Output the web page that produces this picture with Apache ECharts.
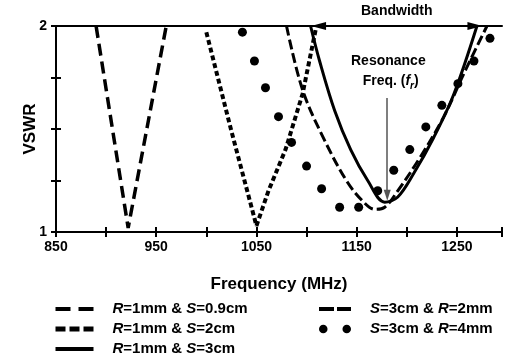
<!DOCTYPE html>
<html>
<head>
<meta charset="utf-8">
<script src="https://cdn.jsdelivr.net/npm/echarts@6/dist/echarts.min.js"></script>
<style>
  html, body { margin: 0; padding: 0; background: #fff; }
  #chart { width: 505px; height: 360px; }
</style>
</head>
<body>
<div id="chart"></div>
<script>
// 数据
const xTicks = [850, 950, 1050, 1150, 1250]
const yTicks = [1, 2]

// R=1mm & S=0.9cm
const freqA = [890, 922, 960]
const vswrA = [2.0, 1.02, 2.0]
// R=1mm & S=2cm
const freqB = [1000, 1025, 1050, 1062, 1079, 1096, 1109]
const vswrB = [1.97, 1.49, 1.03, 1.2, 1.4, 1.67, 1.98]
// R=1mm & S=3cm
const freqC = [1104, 1113, 1128, 1144, 1161, 1178, 1191, 1207, 1227, 1247, 1270]
const vswrC = [2.0, 1.83, 1.59, 1.4, 1.25, 1.145, 1.17, 1.285, 1.46, 1.67, 2.0]
// S=3cm & R=2mm
const freqD = [1080, 1096, 1118, 1141, 1158, 1168, 1178, 1191, 1213, 1237, 1257, 1280]
const vswrD = [2.0, 1.69, 1.445, 1.24, 1.14, 1.11, 1.12, 1.2, 1.36, 1.56, 1.77, 2.0]
// S=3cm & R=4mm
const freqE = [1036, 1048, 1059, 1072, 1085, 1100, 1115, 1133, 1152, 1171, 1187, 1203, 1219, 1235, 1251, 1267, 1283]
const vswrE = [1.97, 1.83, 1.7, 1.56, 1.435, 1.32, 1.21, 1.12, 1.12, 1.2, 1.3, 1.4, 1.51, 1.615, 1.72, 1.83, 1.94]

const names = ['R=1mm & S=0.9cm', 'R=1mm & S=2cm', 'R=1mm & S=3cm', 'S=3cm & R=2mm', 'S=3cm & R=4mm']
const richNames = {
  'R=1mm & S=0.9cm': '{i|R}=1mm & {i|S}=0.9cm',
  'R=1mm & S=2cm': '{i|R}=1mm & {i|S}=2cm',
  'R=1mm & S=3cm': '{i|R}=1mm & {i|S}=3cm',
  'S=3cm & R=2mm': '{i|S}=3cm & {i|R}=2mm',
  'S=3cm & R=4mm': '{i|S}=3cm & {i|R}=4mm'
}

const zip = (xs, ys) => xs.map((x, i) => [x, ys[i]])

const FONT = 'Liberation Sans, Arial, sans-serif'
const chart = echarts.init(document.getElementById('chart'))

const legendText = {
  fontFamily: FONT,
  fontSize: 15,
  fontWeight: 'bold',
  color: '#000',
  lineHeight: 18,
  padding: [0, 0, 0, 14],
  rich: {
    i: { fontFamily: FONT, fontSize: 15, fontWeight: 'bold', fontStyle: 'italic', color: '#000', lineHeight: 18 }
  }
}
// 隐藏折线图例中间的圆点
const hiddenDot = { color: 'rgba(0,0,0,0)', borderWidth: 0 }

const xRange = { min: 850, max: 1295, interval: 50 }
const yRange = { min: 1, max: 2, interval: 0.25 }

chart.setOption({
  animation: false,
  grid: { left: 56, right: 0, top: 26, bottom: 128 },
  xAxis: [
    {
      type: 'value', position: 'bottom', ...xRange,
      name: 'Frequency (MHz)', nameLocation: 'middle', nameGap: 44, nameMoveOverlap: false,
      nameTextStyle: { fontFamily: FONT, fontSize: 17, fontWeight: 'bold', color: '#000' },
      axisLine: { lineStyle: { color: '#000', width: 2 } },
      axisTick: { length: 5, lineStyle: { color: '#000', width: 2 } },
      axisLabel: {
        fontFamily: FONT, fontSize: 14, fontWeight: 'bold', color: '#000', margin: 8,
        formatter: (v) => (xTicks.includes(v) ? String(v) : '')
      },
      splitLine: { show: false }
    },
    {
      type: 'value', position: 'bottom', ...xRange,
      axisLine: { show: false },
      axisTick: { inside: true, length: 5, lineStyle: { color: '#000', width: 2 } },
      axisLabel: { show: false },
      splitLine: { show: false }
    },
    {
      type: 'value', position: 'top', ...xRange,
      axisLine: { lineStyle: { color: '#000', width: 2 } },
      axisTick: { show: false },
      axisLabel: { show: false },
      splitLine: { show: false }
    }
  ],
  yAxis: [
    {
      type: 'value', position: 'left', ...yRange,
      name: 'VSWR', nameLocation: 'middle', nameGap: 17, nameRotate: 90, nameMoveOverlap: false,
      nameTextStyle: { fontFamily: FONT, fontSize: 17, fontWeight: 'bold', color: '#000' },
      axisLine: { show: true, lineStyle: { color: '#000', width: 2 } },
      axisTick: { show: true, length: 5, lineStyle: { color: '#000', width: 2 } },
      axisLabel: {
        fontFamily: FONT, fontSize: 14, fontWeight: 'bold', color: '#000', margin: 9,
        formatter: (v) => (yTicks.includes(v) ? String(v) : '')
      },
      splitLine: { show: false }
    },
    {
      type: 'value', position: 'left', ...yRange,
      axisLine: { show: false },
      axisTick: { show: true, inside: true, length: 5, lineStyle: { color: '#000', width: 2 } },
      axisLabel: { show: false },
      splitLine: { show: false }
    }
  ],
  legend: [
    {
      left: 53, top: 300, orient: 'vertical', padding: 0,
      itemWidth: 38, itemHeight: 14, itemGap: 2,
      textStyle: legendText,
      formatter: (n) => richNames[n],
      data: [
        { name: names[0], itemStyle: hiddenDot, lineStyle: { type: [15, 8], width: 4 } },
        { name: names[1], itemStyle: hiddenDot, lineStyle: { type: [10, 4], width: 5 } },
        { name: names[2], itemStyle: hiddenDot, lineStyle: { width: 4, type: 'solid' } }
      ]
    },
    {
      left: 317, top: 300, orient: 'vertical', padding: 0,
      itemWidth: 32, itemHeight: 14, itemGap: 2,
      textStyle: legendText,
      formatter: (n) => richNames[n],
      data: [
        { name: names[3], itemStyle: hiddenDot, lineStyle: { type: [15, 3], width: 4 } },
        { name: names[4], itemStyle: { color: '#000', opacity: 1 }, icon: 'path://M0,4a4,4 0 1,0 8,0a4,4 0 1,0 -8,0M22,4a4,4 0 1,0 8,0a4,4 0 1,0 -8,0' }
      ]
    }
  ],
  graphic: [
    {
      type: 'text', left: 351, top: 54, silent: true,
      style: {
        text: '{b|Resonance}\n{b|   Freq. (}{i|f}{s|r}{b|)}',
        textAlign: 'left',
        rich: {
          b: { fontFamily: FONT, fontSize: 14, fontWeight: 'bold', color: '#222', lineHeight: 20 },
          i: { fontFamily: FONT, fontSize: 14, fontWeight: 'bold', fontStyle: 'italic', color: '#222', lineHeight: 20 },
          s: { fontFamily: FONT, fontSize: 10, fontWeight: 'bold', fontStyle: 'italic', color: '#222', lineHeight: 14, verticalAlign: 'bottom' }
        }
      }
    }
  ],
  series: [
    {
      name: names[0], type: 'line', symbol: 'none',
      data: zip(freqA, vswrA),
      lineStyle: { color: '#000', width: 3.5, type: [12, 6] },
      itemStyle: { color: '#000' }
    },
    {
      name: names[1], type: 'line', symbol: 'none',
      data: zip(freqB, vswrB),
      lineStyle: { color: '#000', width: 4, type: [5, 3] },
      itemStyle: { color: '#000' }
    },
    {
      name: names[2], type: 'line', symbol: 'none', smooth: 0.35,
      data: zip(freqC, vswrC),
      lineStyle: { color: '#000', width: 3 },
      itemStyle: { color: '#000' },
      markLine: {
        silent: true,
        symbol: ['triangle', 'triangle'],
        symbolSize: [8, 15],
        lineStyle: { color: '#000', width: 1.5, type: 'solid' },
        label: {
          show: true, position: 'insideMiddleTop', distance: 8,
          formatter: 'Bandwidth',
          fontFamily: FONT, fontSize: 14, fontWeight: 'bold', color: '#000'
        },
        data: [[{ coord: [1112, 2] }, { coord: [1268, 2] }]]
      }
    },
    {
      name: names[3], type: 'line', symbol: 'none', smooth: 0.35,
      data: zip(freqD, vswrD),
      lineStyle: { color: '#000', width: 3, type: [10, 4] },
      itemStyle: { color: '#000' },
      markLine: {
        silent: true,
        symbol: ['none', 'triangle'],
        symbolSize: [7, 11],
        lineStyle: { color: '#555', width: 1.5, type: 'solid' },
        label: { show: false },
        data: [[{ coord: [1180.5, 1.65] }, { coord: [1180.5, 1.178] }]]
      }
    },
    {
      name: names[4], type: 'scatter', symbol: 'circle', symbolSize: 9,
      data: zip(freqE, vswrE),
      itemStyle: { color: '#000', opacity: 1 }
    }
  ]
})
</script>
</body>
</html>
